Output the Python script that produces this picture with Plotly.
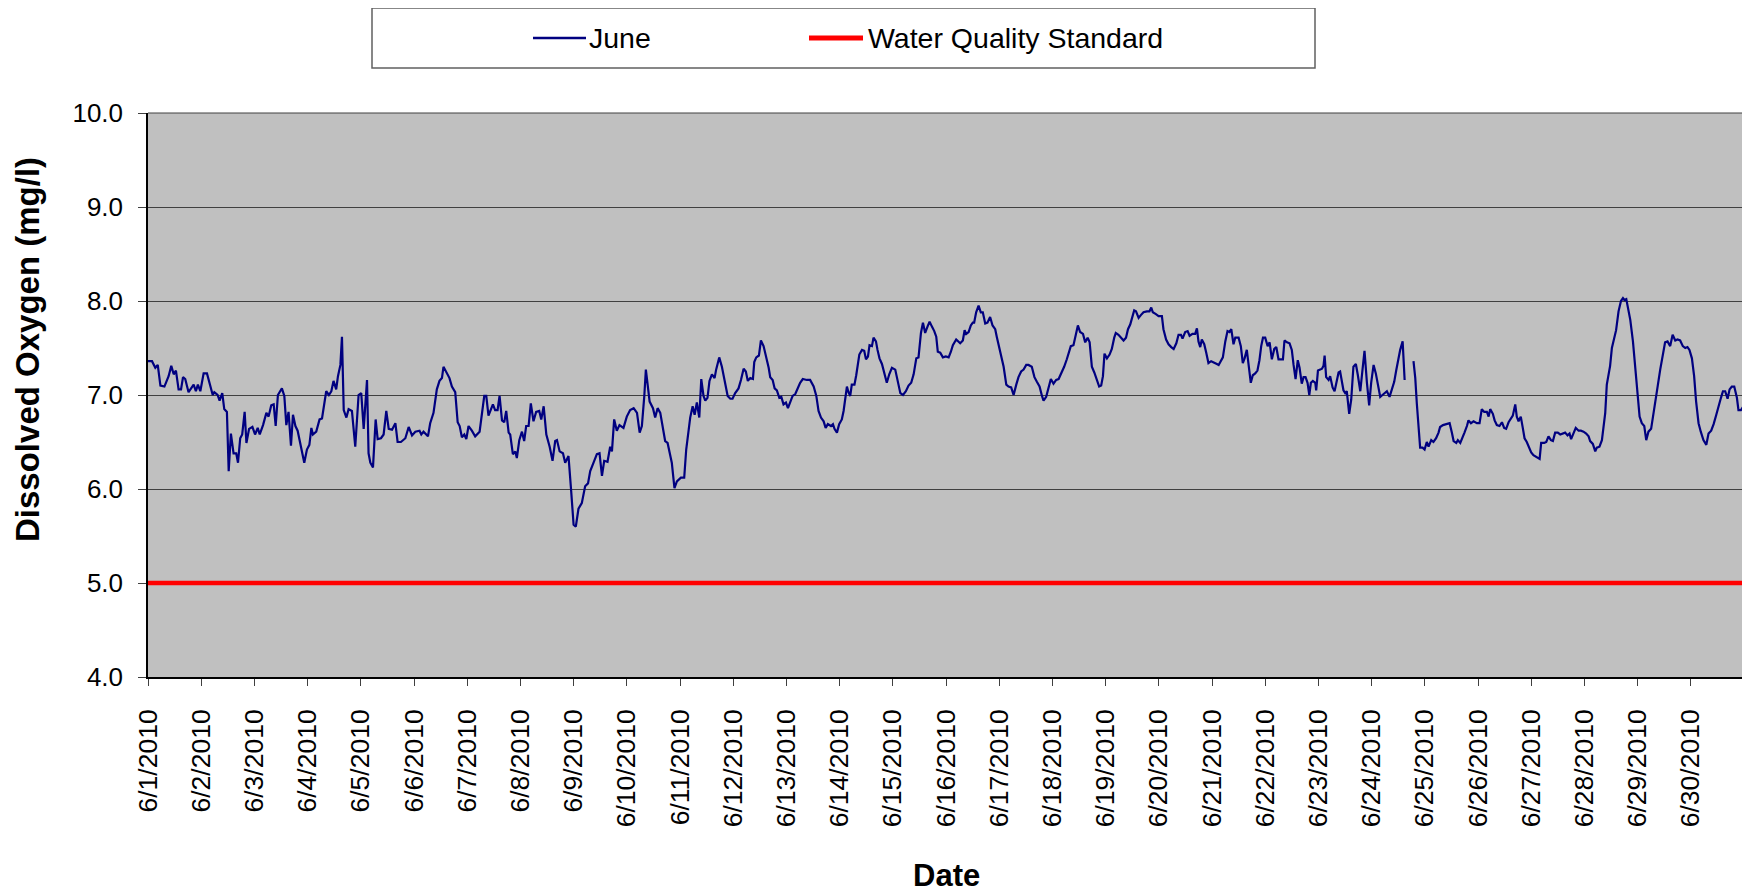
import plotly.graph_objects as go
import pandas as pd

# ---------------- data ----------------
# hours since 6/1/2010 00:00 and dissolved oxygen (mg/l); None marks the data gap
hours = [
    0, 1.8, 3.3, 4.4, 5.6, 7.4, 9.3, 10.5, 11.6, 12.6, 13.8, 14.9, 15.8, 16.8, 18.3, 20.6, 21.6, 22.5, 23.6,
    25.1, 26.6, 28.1, 29.2, 29.9, 31.4, 32.3, 33.5, 34.4, 35.6, 36.4, 37.4, 38.6, 39.8, 40.6, 41.6, 42.5,
    43.6, 44.4, 45.6, 47.1, 48.3, 49.5, 50.4, 51.9, 53.4, 54.4, 55.6, 56.7, 57.6, 58.6, 60.4, 61.5, 62.4,
    63.4, 64.5, 65.4, 66.5, 67.5, 68.7, 70.5, 71.7, 72.8, 73.7, 74.4, 75.9, 77.4, 78.5, 79.2, 80.4, 81.6,
    82.7, 83.7, 84.9, 85.7, 86.8, 87.5, 88.3, 89.5, 90.5, 92.0, 93.5, 95.0, 96.2, 97.3, 98.8, 99.5, 100.3,
    101.5, 102.7, 103.6, 105.1, 106.3, 107.5, 108.6, 110.1, 111.6, 112.6, 114.1, 116.1, 117.6, 119.1, 120.6,
    122.5,
    123.3, 124.3, 126.3, 127.3, 128.8, 130.3, 131.5, 132.6, 133.3, 134.8, 136.0, 137.1, 138.6, 139.7, 140.6,
    141.6, 142.7, 143.6, 144.6, 146.1, 147.6, 149.6, 150.6, 151.7, 152.6, 153.6, 155.6, 156.6, 157.7, 158.6,
    159.7, 160.7, 161.6, 162.7, 163.4, 164.6, 165.7, 166.4, 167.5, 168.7, 169.7, 170.6, 171.7, 172.7, 173.9,
    175.1, 176.5, 177.4, 178.5, 179.7, 181.2, 182.5, 183.7, 184.5, 185.7, 187.2, 188.2, 189.7, 190.9, 192.0,
    193.0, 194.2, 195.7, 197.2, 198.5, 199.5, 201.0, 202.5, 203.7, 204.8, 205.8, 207.3, 208.5, 209.3, 210.3,
    211.5, 212.7, 214.5, 216.0, 217.5, 219.1, 220.6, 221.8, 222.8, 223.9, 224.6, 225.4, 226.3, 227.8, 228.8,
    229.9, 231.1, 233.3, 234.4, 236.3, 237.5, 238.6, 240.4, 241.9, 242.8, 244.6,
    245.7, 246.6, 247.6, 248.7, 249.6, 250.6, 251.4, 252.4, 253.3, 254.4, 255.6, 256.3, 257.7, 258.9, 260.1,
    261.5, 262.7, 263.7, 264.9, 266.4, 267.5, 268.7, 269.7, 270.6, 271.7, 272.9, 273.5, 274.4, 275.6, 276.5,
    277.7, 278.9, 280.0, 280.7, 281.8, 282.7, 283.7, 284.8, 285.7, 286.7, 287.8, 288.7, 289.7, 290.8, 292.0,
    293.0, 294.2, 295.4, 297.2, 298.7, 300.3, 301.5, 302.5, 303.6, 304.8, 305.7, 306.7, 308.1, 309.0, 309.7,
    310.8, 311.8, 313.0, 313.8, 314.8, 315.3, 316.0, 316.8, 317.5, 318.7, 319.5, 320.9, 322.1, 323.1, 323.9,
    324.8, 325.5, 326.6, 327.3, 328.4, 329.1, 330.0, 331.1, 332.1, 333.3, 334.4, 335.6, 337.1, 338.1, 339.4,
    340.6, 341.9, 343.1, 344.3, 345.4, 346.6, 347.6, 348.7, 349.6, 350.6, 351.7, 352.6, 353.6, 354.7, 355.6,
    356.3, 357.4, 358.6, 359.9, 361.2, 362.2, 363.1, 364.6, 365.4, 366.4,
    367.6, 368.4, 369.1, 370.2, 371.2, 372.1, 372.7, 373.6, 374.7, 375.7, 376.6, 377.7, 378.7, 379.9, 381.0,
    382.2, 382.9, 384.0, 384.9, 386.0, 387.2, 388.2, 389.4, 390.5, 391.7, 392.7, 393.9, 395.0, 396.2, 397.2,
    398.7, 399.9, 401.0, 402.2, 403.3, 404.0, 405.2, 406.3, 407.3, 408.5, 409.7, 410.8, 412.0, 413.3, 414.5,
    415.6, 416.3, 417.5, 418.6, 419.5, 420.5, 421.8, 422.8, 423.9, 424.8, 425.8, 426.9, 428.1, 429.1, 430.0,
    430.8, 431.5, 432.6, 433.8, 434.8, 435.9, 436.6, 437.8, 438.9, 440.1, 441.2, 442.1, 443.1, 443.9, 444.9,
    445.7, 446.9, 447.9, 449.1, 450.6, 451.8, 452.6, 453.3, 454.7, 455.9, 457.4, 458.1, 459.3, 460.4, 461.6,
    462.7, 463.9, 464.9, 466.0, 466.7, 467.9, 469.0, 469.9, 471.2, 472.4, 473.2, 473.9, 474.7, 475.4, 476.5,
    477.4, 478.4, 479.6, 480.7, 482.2, 483.0, 484.0, 484.9, 486.0, 487.0, 487.9,
    488.7, 489.7, 490.5, 492.0, 493.0, 493.9, 494.7, 495.7, 496.5, 497.5, 498.4, 499.5, 500.5, 501.4, 502.2,
    503.0, 504.0, 505.1, 506.0, 507.0, 508.1, 509.0, 510.0, 511.1, 512.0, 512.7, 513.8, 515.0, 516.0, 516.8,
    517.7, 518.7, 519.5, 520.5, 521.3, 522.2, 523.1, 523.9, 524.6, 525.5, 526.6, 527.0, 527.8, 528.8, 529.6,
    530.3, 530.8, 531.5, 532.6, 533.3, 534.4, 535.3, 536.0, 537.1, 537.8, 538.6, 539.3, 540.1, 540.8, 541.9,
    542.8, 543.8, 544.9, 545.8, 546.9, 547.9, 548.8, 549.9, 550.9, 551.8, 552.9, 553.9, 554.8, 555.9, 556.9,
    557.8, 558.9, 560.1, 561.1, 562.2, 563.1, 564.1, 564.9, 566.0, 566.9, 568.9,
    570.9, 571.7, 572.4, 573.2, 573.9, 575.0, 575.9, 576.9, 577.7, 578.9, 579.9, 581.1, 582.2, 582.9, 584.2,
    585.7, 587.2, 588.2, 589.0, 590.2, 590.9, 592.0, 593.0, 593.9, 595.0, 595.7, 596.8, 598.0, 599.5, 600.7,
    601.7, 602.8, 604.0, 604.8, 605.5, 606.7, 607.5, 608.5, 609.7,
    610.8, 611.8, 612.7, 613.8, 614.8, 615.7, 616.8, 617.5, 618.3, 619.3, 620.2, 621.0, 622.0, 623.2, 624.0,
    625.0, 626.6, 627.8, 628.5, 629.9, 630.8, 631.8, 632.9, 633.8, 634.8, 636.0, 637.1, 638.3, 639.3, 640.4,
    641.3, 642.0, 643.1, 644.1, 645.4, 646.4, 647.6, 648.8, 649.9, 650.6, 651.8, 652.9, 653.6, 654.8, 655.9,
    656.6, 657.4, 658.1, 658.9, 659.6, 660.4, 661.4, 662.3, 663.4, 664.5, 665.4, 666.1, 666.9, 667.6, 668.7,
    669.9, 670.9, 672.0, 672.9, 673.9, 675.0, 675.9, 676.9, 678.1, 679.2, 680.2, 681.1, 682.2, 683.4, 684.4,
    685.5, 686.7, 687.8, 689.0, 690.0, 691.2, 692.4, 693.5, 694.5, 695.4, 696.5, 697.5, 698.4, 699.5, 700.5,
    701.7, 703.0, 704.0, 705.2, 706.3, 707.5, 708.5, 709.6, 710.5, 711.5, 712.6, 713.5, 714.5, 715.6, 716.8,
    717.5, 718.6, 719.8,
]

do_mgl = [
    7.36, 7.36, 7.29, 7.32, 7.10, 7.09, 7.20, 7.31, 7.22, 7.26, 7.06, 7.06, 7.19, 7.17, 7.03, 7.11, 7.04, 7.11, 7.04,
    7.23, 7.23, 7.11, 7.00, 7.03, 7.00, 6.94, 7.02, 6.85, 6.82, 6.19, 6.59, 6.38, 6.38, 6.28, 6.54, 6.58,
    6.82, 6.49, 6.64, 6.66, 6.58, 6.65, 6.58, 6.68, 6.81, 6.77, 6.89, 6.90, 6.67, 7.00, 7.07, 6.99, 6.68,
    6.82, 6.46, 6.79, 6.67, 6.62, 6.47, 6.28, 6.42, 6.47, 6.65, 6.58, 6.61, 6.74, 6.75, 6.86, 7.04, 7.00,
    7.04, 7.15, 7.06, 7.20, 7.32, 7.62, 6.84, 6.76, 6.85, 6.83, 6.45, 7.00, 7.02, 6.64, 7.16, 6.38, 6.28,
    6.23, 6.74, 6.53, 6.54, 6.58, 6.83, 6.64, 6.63, 6.70, 6.50, 6.50, 6.54, 6.66, 6.57, 6.61,
    6.62,
    6.58, 6.61, 6.56, 6.70, 6.81, 7.06, 7.15, 7.18, 7.30, 7.23, 7.18, 7.09, 7.03, 6.71, 6.67,
    6.55, 6.58, 6.53, 6.67, 6.62, 6.56, 6.61, 6.77, 6.99, 6.99, 6.78, 6.90, 6.84, 6.84, 6.99,
    6.73, 6.71, 6.83, 6.60, 6.58, 6.37, 6.40, 6.33, 6.52, 6.61, 6.51, 6.67, 6.67, 6.91, 6.72,
    6.82, 6.83, 6.74, 6.88, 6.58, 6.45, 6.30, 6.51, 6.52, 6.40, 6.38, 6.28, 6.35, 5.98, 5.62,
    5.60, 5.79, 5.85, 6.03, 6.06, 6.19, 6.28, 6.37, 6.38, 6.14, 6.30, 6.29, 6.45, 6.40, 6.74,
    6.62, 6.68, 6.65, 6.77, 6.84, 6.86, 6.81, 6.60, 6.67, 6.99, 7.27, 7.11, 6.93, 6.86, 6.76,
    6.86, 6.81, 6.51, 6.49, 6.28, 6.01, 6.08, 6.12, 6.12, 6.42, 6.76,
    6.88, 6.79, 6.92, 6.76, 7.17, 6.99, 6.94, 6.97, 7.15, 7.22, 7.18, 7.27, 7.40, 7.30, 7.16,
    6.99, 6.96, 6.96, 7.02, 7.07, 7.16, 7.28, 7.25, 7.15, 7.18, 7.17, 7.35, 7.40, 7.42, 7.58,
    7.52, 7.41, 7.29, 7.19, 7.16, 7.07, 7.05, 6.97, 6.98, 6.90, 6.92, 6.86, 6.93, 6.99, 7.01,
    7.06, 7.13, 7.17, 7.16, 7.16, 7.09, 6.99, 6.83, 6.76, 6.72, 6.65, 6.69, 6.67, 6.69, 6.64,
    6.60, 6.69, 6.74, 6.83, 7.01, 7.09, 7.03, 6.99, 7.11, 7.11, 7.21, 7.43, 7.48, 7.47, 7.38,
    7.41, 7.53, 7.52, 7.61, 7.57, 7.48, 7.39, 7.33, 7.23, 7.13, 7.22, 7.29, 7.27, 7.16, 7.02,
    7.00, 7.04, 7.10, 7.13, 7.22, 7.39, 7.40, 7.66, 7.77, 7.66, 7.73, 7.78, 7.73, 7.68, 7.62,
    7.46, 7.45, 7.40, 7.41, 7.40, 7.46, 7.53, 7.59, 7.57, 7.55,
    7.58, 7.69, 7.65, 7.67, 7.74, 7.77, 7.77, 7.88, 7.95, 7.88, 7.88, 7.76, 7.77, 7.83, 7.74,
    7.70, 7.62, 7.50, 7.43, 7.30, 7.11, 7.09, 7.08, 7.00, 7.11, 7.19, 7.25, 7.27, 7.32, 7.32,
    7.30, 7.19, 7.14, 7.09, 6.99, 6.94, 6.98, 7.07, 7.17, 7.12, 7.16, 7.17, 7.23, 7.30, 7.38,
    7.46, 7.52, 7.53, 7.65, 7.74, 7.67, 7.65, 7.56, 7.61, 7.56, 7.30, 7.24, 7.16, 7.09, 7.10,
    7.20, 7.44, 7.39, 7.43, 7.49, 7.61, 7.66, 7.64, 7.61, 7.58, 7.61, 7.70, 7.75, 7.81, 7.90,
    7.89, 7.82, 7.85, 7.88, 7.89, 7.89, 7.93, 7.88, 7.86, 7.84, 7.84, 7.70, 7.59, 7.54, 7.51,
    7.49, 7.55, 7.64, 7.64, 7.60, 7.67, 7.68, 7.63, 7.65, 7.65, 7.71, 7.57, 7.51, 7.59, 7.54,
    7.45, 7.34, 7.36, 7.35, 7.33, 7.32, 7.36, 7.40, 7.57, 7.68, 7.67,
    7.70, 7.54, 7.61, 7.61, 7.52, 7.34, 7.39, 7.48, 7.30, 7.13, 7.21, 7.23, 7.26, 7.37, 7.52,
    7.61, 7.61, 7.52, 7.56, 7.38, 7.49, 7.51, 7.38, 7.38, 7.38, 7.58, 7.56, 7.55, 7.48, 7.32,
    7.17, 7.37, 7.29, 7.12, 7.19, 7.19, 7.13, 7.00, 7.13, 7.15, 7.13, 7.05, 7.26, 7.27, 7.28,
    7.31, 7.42, 7.19, 7.16, 7.20, 7.08, 7.04, 7.13, 7.24, 7.25, 7.13, 7.05, 7.02, 7.04, 6.80,
    6.95, 7.30, 7.33, 7.21, 7.04, 7.27, 7.47, 7.13, 6.89, 7.13, 7.32, 7.23, 7.11, 6.98, 7.00,
    7.02, 7.04, 6.98, 7.06, 7.14, 7.26, 7.38, 7.48, 7.57, 7.16, None,
    7.36, 7.18, 6.91, 6.67, 6.44, 6.44, 6.42, 6.50, 6.45, 6.52, 6.50, 6.54, 6.60, 6.66, 6.68,
    6.69, 6.70, 6.60, 6.51, 6.49, 6.52, 6.49, 6.56, 6.60, 6.67, 6.73, 6.70, 6.72, 6.70, 6.70,
    6.85, 6.82, 6.82, 6.77, 6.85, 6.80, 6.73, 6.68, 6.67,
    6.71, 6.65, 6.64, 6.71, 6.75, 6.78, 6.90, 6.77, 6.72, 6.77, 6.65, 6.54, 6.50, 6.43, 6.39,
    6.36, 6.34, 6.32, 6.49, 6.49, 6.50, 6.56, 6.52, 6.51, 6.60, 6.60, 6.58, 6.59, 6.60, 6.57,
    6.59, 6.53, 6.60, 6.65, 6.62, 6.62, 6.61, 6.59, 6.56, 6.51, 6.48, 6.40, 6.44, 6.45, 6.52,
    6.65, 6.81, 7.11, 7.22, 7.31, 7.50, 7.59, 7.69, 7.89, 8.00, 8.03, 8.01, 8.02, 7.94, 7.80,
    7.57, 7.30, 6.98, 6.77, 6.70, 6.67, 6.52, 6.61, 6.64, 6.83, 6.97, 7.10, 7.27, 7.45, 7.56,
    7.57, 7.52, 7.64, 7.58, 7.59, 7.58, 7.52, 7.50, 7.51, 7.48, 7.39, 7.20, 6.93, 6.70, 6.61,
    6.52, 6.47, 6.59, 6.62, 6.69, 6.79, 6.89, 6.97, 7.04, 7.04, 6.96, 7.06, 7.09, 7.09, 6.97,
    6.84, 6.84, 6.88,
]

standard_value = 5.0
standard_dates = ["2010-06-01", "2010-07-01"]

tick_days = list(range(1, 31))
tick_dates = [f"2010-06-{d:02d}" for d in tick_days]
tick_labels = [f"6/{d}/2010" for d in tick_days]

# ---------------- figure ----------------
start = pd.Timestamp("2010-06-01")
times = [start + pd.Timedelta(hours=h) for h in hours]

# the page body adds an 8px offset; size the figure so the final picture lines up
OFF = 8
W, H = 1750 - OFF, 894 - OFF
L, R, T, B = 148, 1744, 113, 677  # plot area in window pixels


def px(x):
    return (x - L) / (R - L)


def py(y):
    return (B - y) / (B - T)


FONT = "Liberation Sans, Arial, sans-serif"
NAVY = "#000080"
RED = "#FF0000"

fig = go.Figure()
fig.add_trace(go.Scatter(
    x=standard_dates, y=[standard_value] * len(standard_dates), mode="lines",
    line=dict(color=RED, width=4.5), name="Water Quality Standard", showlegend=False,
    hoverinfo="skip"))
fig.add_trace(go.Scatter(
    x=times, y=do_mgl, mode="lines", connectgaps=False,
    line=dict(color=NAVY, width=2.2), name="June", showlegend=False))

fig.update_layout(
    width=W, height=H,
    margin=dict(l=L - OFF, r=1750 - R, t=T - OFF, b=894 - B, pad=0),
    paper_bgcolor="white", plot_bgcolor="#C0C0C0",
    font=dict(family=FONT, color="black"),
    showlegend=False,
)

fig.update_xaxes(
    type="date", range=["2010-06-01", "2010-07-01"],
    tickmode="array", tickvals=tick_dates, ticktext=tick_labels,
    tickangle=-90, tickfont=dict(size=26.5, family=FONT, color="black"),
    ticks="outside", ticklen=7, tickcolor="#404040", tickwidth=1,
    ticklabelstandoff=13,
    showgrid=False, zeroline=False,
    showline=True, linecolor="black", linewidth=1.5,
)
fig.update_yaxes(
    range=[4, 10], tickmode="linear", tick0=4, dtick=1, tickformat=".1f",
    tickfont=dict(size=26, family=FONT, color="black"),
    ticks="outside", ticklen=8, tickcolor="#404040", tickwidth=1,
    ticklabelstandoff=10,
    showgrid=True, gridcolor="#404040", gridwidth=1, zeroline=False,
    showline=True, linecolor="black", linewidth=1.5,
)

shapes = [
    # plot area top and right border
    dict(type="line", xref="paper", yref="paper", x0=0, x1=1, y0=1, y1=1,
         line=dict(color="#404040", width=1)),
    dict(type="line", xref="paper", yref="paper", x0=1, x1=1, y0=0, y1=1,
         line=dict(color="#808080", width=1.5)),
    # legend box
    dict(type="rect", xref="paper", yref="paper",
         x0=px(372), x1=px(1315), y0=py(68), y1=py(8),
         line=dict(color="#606060", width=1.5), fillcolor="white", layer="above"),
    dict(type="line", xref="paper", yref="paper",
         x0=px(533), x1=px(586), y0=py(38), y1=py(38),
         line=dict(color=NAVY, width=2.5)),
    dict(type="line", xref="paper", yref="paper",
         x0=px(809), x1=px(863), y0=py(38), y1=py(38),
         line=dict(color=RED, width=5)),
]
fig.update_layout(shapes=shapes)

annotations = [
    dict(text="June", xref="paper", yref="paper", x=px(587), y=py(38),
         xanchor="left", yanchor="middle", showarrow=False,
         font=dict(size=28.5, family=FONT, color="black")),
    dict(text="Water Quality Standard", xref="paper", yref="paper", x=px(866), y=py(38),
         xanchor="left", yanchor="middle", showarrow=False,
         font=dict(size=28.5, family=FONT, color="black")),
    dict(text="<b>Dissolved Oxygen (mg/l)</b>", xref="paper", yref="paper",
         x=px(27), y=py(350), xanchor="center", yanchor="middle", textangle=-90,
         showarrow=False, font=dict(size=33, family=FONT, color="black")),
    dict(text="<b>Date</b>", xref="paper", yref="paper",
         x=px(946), y=py(876), xanchor="center", yanchor="middle",
         showarrow=False, font=dict(size=31, family=FONT, color="black")),
]
fig.update_layout(annotations=annotations)

fig.write_html("out.html")
